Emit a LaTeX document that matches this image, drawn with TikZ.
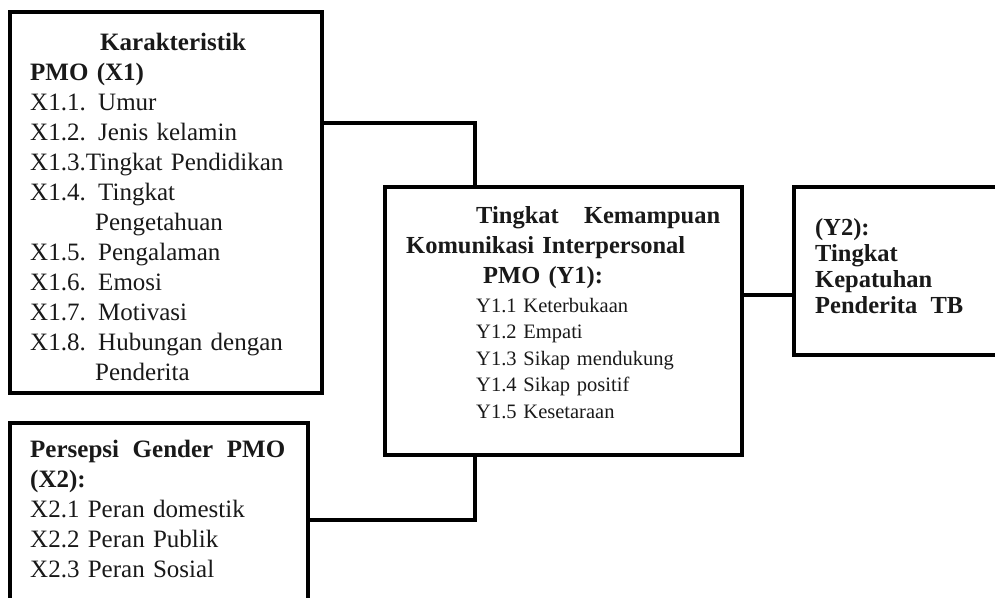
\documentclass[tikz,border=0pt]{standalone}
\usepackage{fontspec}
\setmainfont{Liberation Serif}
\usetikzlibrary{fit}
\begin{document}
\begin{tikzpicture}[x=1pt,y=-1pt,
  box/.style={draw=black,line width=4pt,inner sep=0pt,rectangle},
  conn/.style={draw=black,line width=4pt},
  txt/.style={inner sep=0pt,anchor=base west,text width=#1,align=left,text=black!90}]
\clip (0,0) rectangle (995,597);
% boxes
\node[box,fit={(10,12) (322,393)}] (X1) {};
\node[box,fit={(10,423) (308,640)}] (X2) {};
\node[box,fit={(385,187) (742,455)}] (Y1) {};
\node[box,fit={(794,187) (1020,355)}] (Y2) {};
% texts
\node[txt=290pt,font=\fontsize{25}{30}\selectfont] (tX1) at (30,50) {%
\hspace*{70pt}\textbf{Karakteristik}\\
\textbf{PMO (X1)}\\
X1.1. Umur\\
X1.2. Jenis kelamin\\
X1.3.Tingkat Pendidikan\\
X1.4. Tingkat\\
\hspace*{65pt}Pengetahuan\\
X1.5. Pengalaman\\
X1.6. Emosi\\
X1.7. Motivasi\\
X1.8. Hubungan dengan\\
\hspace*{65pt}Penderita};
\node[txt=275pt,font=\fontsize{25}{30}\selectfont] (tX2) at (30,457) {%
\hbox to 255pt{\textbf{Persepsi}\hfill\textbf{Gender}\hfill\textbf{PMO}}\\
\textbf{(X2):}\\
X2.1 Peran domestik\\
X2.2 Peran Publik\\
X2.3 Peran Sosial};
\node[txt=330pt,font=\fontsize{24.5}{30}\selectfont] (tY1h) at (406,223) {%
\hspace*{70pt}\hbox to 244pt{\textbf{Tingkat}\hfill\textbf{Kemampuan}}\\
\textbf{Komunikasi Interpersonal}\\
\hspace*{77pt}\textbf{PMO (Y1):}};
\node[txt=250pt,font=\fontsize{20.5}{26.5}\selectfont] (tY1) at (476,312) {%
Y1.1 Keterbukaan\\
Y1.2 Empati\\
Y1.3 Sikap mendukung\\
Y1.4 Sikap positif\\
Y1.5 Kesetaraan};
\node[txt=175pt,font=\fontsize{24.5}{26.3}\selectfont\bfseries] (tY2) at (815,235) {%
(Y2):\\
Tingkat\\
Kepatuhan\\
\hbox to 148pt{Penderita\hfill TB}};
% connectors
\coordinate (j1) at (475,123);
\coordinate (j2) at (475,520);
\coordinate (j3) at (760,295);
\draw[conn] (j1 -| X1.east) -| (Y1.north -| j1);
\draw[conn] (Y1.south -| j2) |- (j2 -| X2.east);
\draw[conn] (Y1.east |- j3) -- (Y2.west |- j3);
\end{tikzpicture}
\end{document}
